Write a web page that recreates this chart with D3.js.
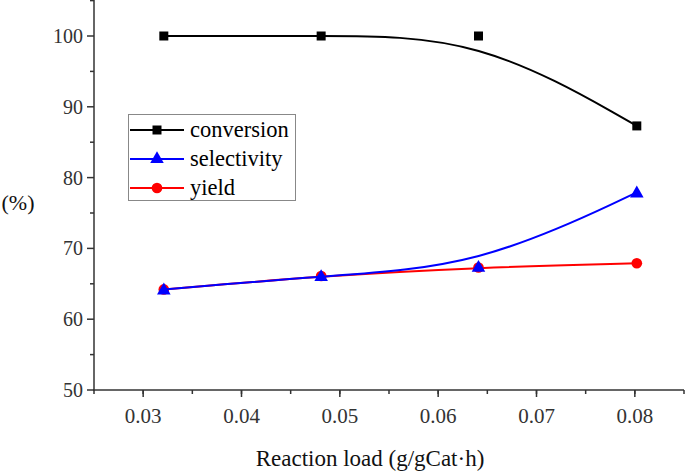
<!DOCTYPE html>
<html><head><meta charset="utf-8">
<script src="https://cdn.jsdelivr.net/npm/d3@7"></script>
<style>
body{margin:0;background:#fff}
svg{display:block}
svg text{font-family:"Liberation Serif","Times New Roman",Times,serif}
</style>
</head><body><svg id="c" width="685" height="473"></svg>
<script>
const loads = [0.0321, 0.0481, 0.0641, 0.0802];
const conversion = [100, 100, 100, 87.3];
const selectivity = [64.2, 66.1, 67.4, 77.9];
const yieldVals = [64.2, 66.1, 67.3, 67.9];
const seriesNames = ["conversion", "selectivity", "yield"];
const xTicks = [0.03, 0.04, 0.05, 0.06, 0.07, 0.08];
const yTicks = [50, 60, 70, 80, 90, 100];

const FONT = "'Liberation Serif', 'Times New Roman', Times, serif";
const svg = d3.select("#c");
const x = d3.scaleLinear().domain([0.025, 0.085]).range([94, 684]);
const y = d3.scaleLinear().domain([50, 105]).range([390, 0.6]);
const axisColor = "#333";

function txt(sel) { return sel.style("font-family", FONT); }

// axes
const xMinor = d3.range(0.025, 0.0851, 0.005);
const yMinor = d3.range(55, 105.1, 10);
const gx = svg.append("g").attr("transform", "translate(0,390)");
gx.append("line").attr("x1", x(0.025) - 1).attr("x2", 684).attr("stroke", axisColor).attr("stroke-width", 1.5);
gx.selectAll(".mn").data(xMinor).join("line").attr("x1", d => x(d)).attr("x2", d => x(d)).attr("y1", 0).attr("y2", 4).attr("stroke", axisColor).attr("stroke-width", 1.5);
gx.selectAll(".mj").data(xTicks).join("line").attr("x1", d => x(d)).attr("x2", d => x(d)).attr("y1", 0).attr("y2", 7).attr("stroke", axisColor).attr("stroke-width", 1.5);
txt(gx.selectAll("text").data(xTicks).join("text")).attr("x", d => x(d)).attr("y", 33).attr("text-anchor", "middle").attr("font-size", 21).attr("fill", "#333").text(d => d3.format(".2f")(d));

const gy = svg.append("g").attr("transform", "translate(" + x(0.025) + ",0)");
gy.append("line").attr("y1", 0).attr("y2", 390.7).attr("stroke", axisColor).attr("stroke-width", 1.5);
gy.selectAll(".mn").data(yMinor).join("line").attr("y1", d => y(d)).attr("y2", d => y(d)).attr("x1", 0).attr("x2", -4).attr("stroke", axisColor).attr("stroke-width", 1.5);
gy.selectAll(".mj").data(yTicks).join("line").attr("y1", d => y(d)).attr("y2", d => y(d)).attr("x1", 0).attr("x2", -7).attr("stroke", axisColor).attr("stroke-width", 1.5);
txt(gy.selectAll("text").data(yTicks).join("text")).attr("x", -11).attr("y", d => y(d) + 7).attr("text-anchor", "end").attr("font-size", 20).attr("fill", "#333").text(d => d);

txt(svg.append("text")).attr("x", 370).attr("y", 466).attr("text-anchor", "middle").attr("font-size", 23).attr("fill", "#111").text("Reaction load (g/gCat\u00b7h)");
txt(svg.append("text")).attr("x", 18).attr("y", 210).attr("text-anchor", "middle").attr("font-size", 22).attr("fill", "#111").text("(%)");

const line = d3.line().x(d => x(d[0])).y(d => y(d[1])).curve(d3.curveBasis);
const series = [
  {name: seriesNames[2], vals: yieldVals, color: "#ff0000", marker: "circle"},
  {name: seriesNames[1], vals: selectivity, color: "#0000ff", marker: "triangle"},
  {name: seriesNames[0], vals: conversion, color: "#000000", marker: "square"}
];
const sym = {circle: d3.symbol(d3.symbolCircle, 90), triangle: d3.symbol(d3.symbolTriangle, 80), square: d3.symbol(d3.symbolSquare, 81)};
series.forEach(s => {
  const pts = loads.map((l, i) => [l, s.vals[i]]);
  svg.append("path").attr("d", line(pts)).attr("fill", "none").attr("stroke", s.color).attr("stroke-width", 2);
  svg.selectAll(null).data(pts).join("path").attr("d", sym[s.marker]()).attr("transform", d => "translate(" + x(d[0]) + "," + (y(d[1]) + (s.marker === "triangle" ? 1 : 0)) + ")").attr("fill", s.color);
});

// legend
const lg = svg.append("g");
lg.append("rect").attr("x", 128.5).attr("y", 114.5).attr("width", 167).attr("height", 86).attr("fill", "#fff").attr("stroke", "#888").attr("stroke-width", 1);
const legendItems = [series[2], series[1], series[0]];
legendItems.forEach((s, i) => {
  const cy = 130 + i * 29;
  lg.append("line").attr("x1", 130).attr("x2", 184).attr("y1", cy).attr("y2", cy).attr("stroke", s.color).attr("stroke-width", 2);
  lg.append("path").attr("d", sym[s.marker]()).attr("transform", "translate(157," + cy + ")").attr("fill", s.color);
  txt(lg.append("text")).attr("x", 190).attr("y", cy + 7).attr("font-size", 22.5).attr("fill", "#000").text(s.name);
});
</script></body></html>
